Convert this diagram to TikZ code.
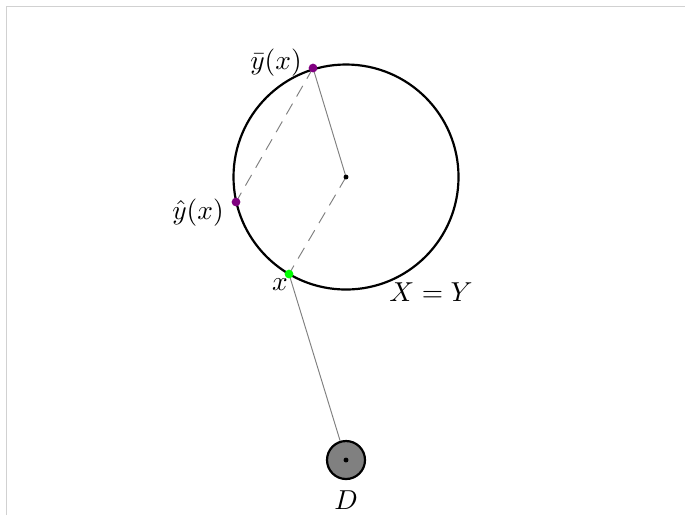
\documentclass[tikz,border=0pt]{standalone}
\definecolor{dotvio}{RGB}{128,0,128}
\begin{document}
\begin{tikzpicture}[x=0.365pt,y=-0.365pt,
  thinline/.style={gray,line width=0.35pt},
  dashline/.style={gray,line width=0.35pt,dash pattern=on 4.5pt off 3pt},
  dotnode/.style={circle,inner sep=0pt,minimum size=#1},
  lbl/.style={inner sep=0pt}]
\useasboundingbox (0,0) rectangle (685,515);
\draw[black!18,line width=0.4pt] (6.5,515) -- (6.5,6.5) -- (685,6.5);
\coordinate (c) at (346,177);
\draw[thick] (c) circle (112.5);
\node[draw,thick,fill=gray,circle,inner sep=0pt,minimum size=38*0.365pt] (D) at (346,460) {};
\coordinate (yb) at (313,68);
\coordinate (yh) at (236,202);
\coordinate (x) at (289,274);
\draw[thinline] (yb) -- (c);
\draw[thinline] (D) -- (x);
\draw[dashline] (c) -- (x);
\draw[dashline] (yb) -- (yh);
\node[dotnode=3.2pt,fill=dotvio] (pyb) at (yb) {};
\node[dotnode=3.2pt,fill=dotvio] (pyh) at (yh) {};
\node[dotnode=3.2pt,fill=green] (px) at (x) {};
\node[dotnode=1.8pt,fill=black] (pc) at (c) {};
\node[dotnode=1.8pt,fill=black] (pd) at (D.center) {};
\node[lbl] (lyb) at (276,63) {$\bar{y}(x)$};
\node[lbl] (lyh) at (198,213) {$\hat{y}(x)$};
\node[lbl] (lx) at (280,285) {$x$};
\node[lbl] (lxy) at (431,292) {$X=Y$};
\node[lbl] (lD) at (346,500) {$D$};
\end{tikzpicture}
\end{document}
